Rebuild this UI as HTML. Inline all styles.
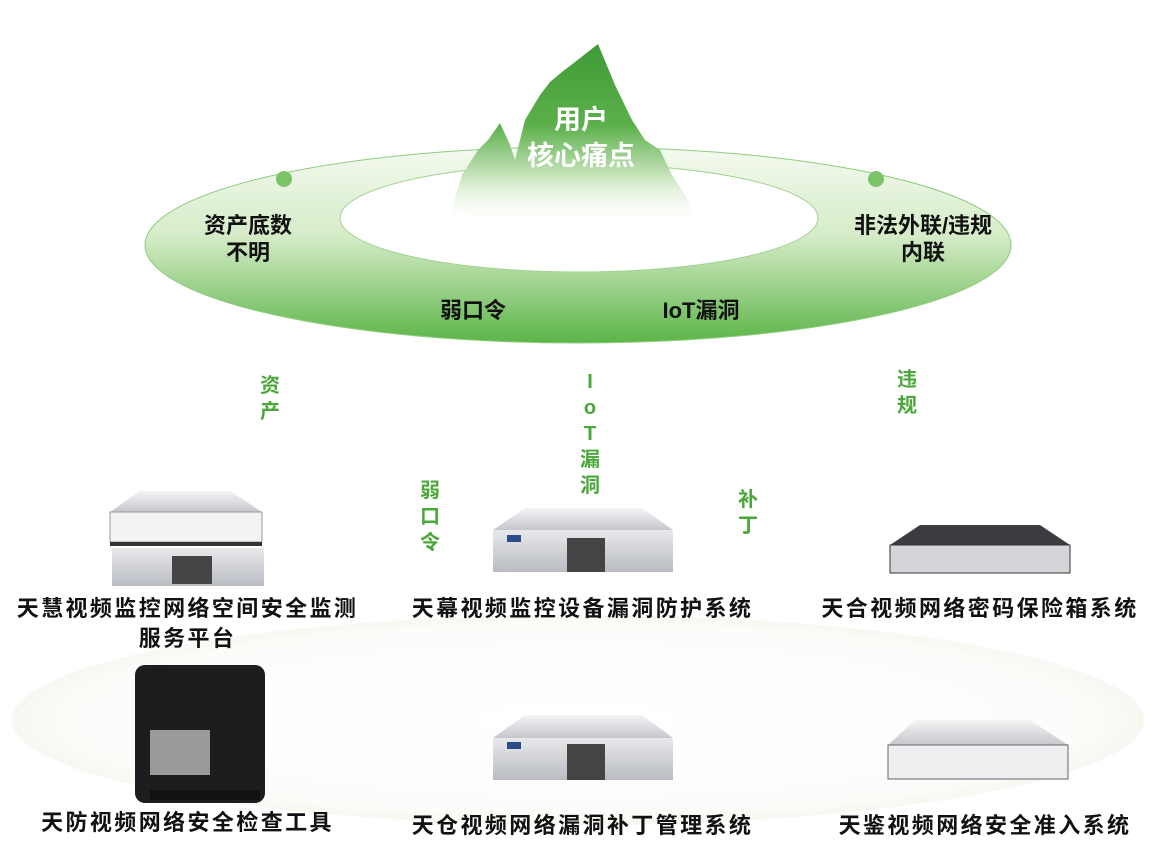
<!DOCTYPE html>
<html><head><meta charset="utf-8"><style>
body{margin:0;width:1154px;height:851px;background:#fff;overflow:hidden;position:relative;font-family:"Liberation Sans","Noto Sans CJK SC",sans-serif}
.t{position:absolute;font-weight:bold;color:#111;text-align:center;white-space:nowrap}
.p{font-size:22px;letter-spacing:2.4px;line-height:30px}
.g{position:absolute;font-weight:bold;color:#4aa83a;font-size:20px;line-height:26px;text-align:center;width:30px}
</style></head><body>
<svg width="1154" height="851" style="position:absolute;left:0;top:0">
<defs>
<linearGradient id="ring" x1="0" y1="0" x2="0" y2="1">
<stop offset="0" stop-color="#f4faf0"/><stop offset="0.45" stop-color="#d6ecc8"/><stop offset="1" stop-color="#5cb548"/></linearGradient>
<linearGradient id="mt" x1="0" y1="0" x2="0" y2="1">
<stop offset="0" stop-color="#3f9a35"/><stop offset="0.45" stop-color="#5cb04c"/><stop offset="0.75" stop-color="#cfe8c4"/><stop offset="1" stop-color="#fff" stop-opacity="0"/></linearGradient>
<radialGradient id="bot" cx="0.5" cy="0.5" r="0.5">
<stop offset="0" stop-color="#fff"/><stop offset="0.88" stop-color="#fcfdfa"/><stop offset="1" stop-color="#f5f9f1"/></radialGradient>
<linearGradient id="dev" x1="0" y1="0" x2="0" y2="1"><stop offset="0" stop-color="#e8e9ec"/><stop offset="1" stop-color="#b9bcc2"/></linearGradient>
<linearGradient id="top" x1="0" y1="0" x2="0" y2="1"><stop offset="0" stop-color="#f4f4f6"/><stop offset="1" stop-color="#c5c7cc"/></linearGradient>
</defs>
<ellipse cx="578" cy="720" rx="566" ry="105" fill="url(#bot)"/>
<ellipse cx="578" cy="245" rx="433" ry="98" fill="url(#ring)" stroke="#8fcc7e" stroke-width="1"/>
<ellipse cx="579" cy="218" rx="239" ry="54" fill="#fff" stroke="#9fd28e" stroke-width="1"/>
<path d="M450,215 L462,175 L478,150 L488,140 L500,123 L510,145 L515,160 L525,120 L540,95 L550,82 L562,72 L575,62 L598,44 L615,85 L632,120 L645,140 L660,150 L672,175 L688,200 L700,225 Z" fill="url(#mt)"/>
<circle cx="284" cy="179" r="8" fill="#7cc36a"/>
<circle cx="876" cy="179" r="8" fill="#7cc36a"/>
<g>
<polygon points="140,491 230,491 262,512 110,512" fill="url(#top)"/>
<rect x="110" y="512" width="152" height="30" fill="#f2f3f5" stroke="#999"/>
<rect x="110" y="542" width="152" height="4" fill="#333"/>
<rect x="112" y="548" width="152" height="38" fill="url(#dev)"/>
<rect x="172" y="556" width="40" height="28" fill="#444"/>
</g>
<g>
<polygon points="525,508 642,508 673,530 493,530" fill="url(#top)"/>
<rect x="493" y="530" width="180" height="42" fill="url(#dev)"/>
<rect x="567" y="538" width="38" height="34" fill="#444"/><rect x="507" y="535" width="14" height="7" fill="#2a4c8a"/>
</g>
<g>
<polygon points="920,525 1040,525 1070,545 890,545" fill="#3c3d40"/>
<rect x="890" y="545" width="180" height="28" fill="#d3d5d8" stroke="#333"/>
</g>
<g>
<rect x="135" y="665" width="130" height="138" rx="10" fill="#1d1d1f"/>
<rect x="150" y="730" width="60" height="45" fill="#9a9a9c"/>
<rect x="150" y="790" width="110" height="10" fill="#111"/>
</g>
<g>
<polygon points="525,715 642,715 673,738 493,738" fill="url(#top)"/>
<rect x="493" y="738" width="180" height="42" fill="url(#dev)"/>
<rect x="567" y="744" width="38" height="36" fill="#444"/><rect x="507" y="742" width="14" height="7" fill="#2a4c8a"/>
</g>
<g>
<polygon points="915,720 1030,720 1068,745 888,745" fill="url(#top)"/>
<rect x="888" y="745" width="180" height="34" fill="#eceef0" stroke="#666"/>
</g>
</svg>
<div class="t" style="left:516px;top:102px;width:130px;color:#fff;font-size:27px;line-height:36px">用户<br>核心痛点</div>
<div class="t" style="left:188px;top:212px;width:120px;font-size:22px;line-height:27px">资产底数<br>不明</div>
<div class="t" style="left:833px;top:212px;width:180px;font-size:22px;line-height:27px">非法外联/违规<br>内联</div>
<div class="t" style="left:413px;top:293px;width:120px;font-size:22px">弱口令</div>
<div class="t" style="left:636px;top:293px;width:130px;font-size:22px">IoT漏洞</div>
<div class="g" style="left:255px;top:373px">资<br>产</div>
<div class="g" style="left:575px;top:369px">I<br>o<br>T<br>漏<br>洞</div>
<div class="g" style="left:415px;top:478px">弱<br>口<br>令</div>
<div class="g" style="left:733px;top:487px">补<br>丁</div>
<div class="g" style="left:892px;top:367px">违<br>规</div>
<div class="t p" style="left:0px;top:594px;width:375px">天慧视频监控网络空间安全监测<br>服务平台</div>
<div class="t p" style="left:395px;top:594px;width:375px">天幕视频监控设备漏洞防护系统</div>
<div class="t p" style="left:800px;top:594px;width:360px">天合视频网络密码保险箱系统</div>
<div class="t p" style="left:0px;top:808px;width:375px">天防视频网络安全检查工具</div>
<div class="t p" style="left:395px;top:811px;width:375px">天仓视频网络漏洞补丁管理系统</div>
<div class="t p" style="left:800px;top:811px;width:370px">天鉴视频网络安全准入系统</div>
</body></html>
